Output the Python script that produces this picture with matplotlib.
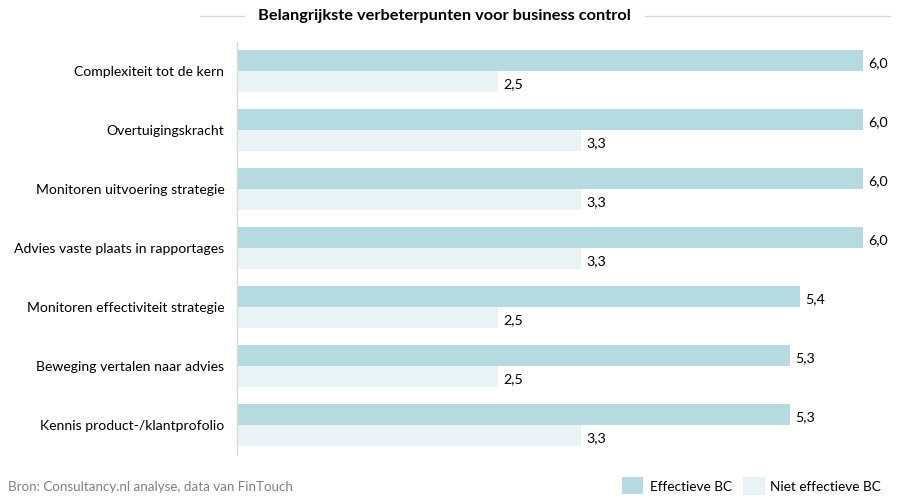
import matplotlib
matplotlib.use("Agg")
import matplotlib.pyplot as plt
from matplotlib.patches import Rectangle
from matplotlib.lines import Line2D

categories = ["Complexiteit tot de kern", "Overtuigingskracht", "Monitoren uitvoering strategie",
              "Advies vaste plaats in rapportages", "Monitoren effectiviteit strategie",
              "Beweging vertalen naar advies", "Kennis product-/klantprofolio"]
effectief = [6.0, 6.0, 6.0, 6.0, 5.4, 5.3, 5.3]
niet_effectief = [2.5, 3.3, 3.3, 3.3, 2.5, 2.5, 3.3]
series_names = ["Effectieve BC", "Niet effectieve BC"]
title = "Belangrijkste verbeterpunten voor business control"
source = "Bron: Consultancy.nl analyse, data van FinTouch"

plt.rcParams['font.family'] = ['Lato', 'DejaVu Sans']
c_dark = "#b5dae0"
c_light = "#eaf4f6"
W, H = 900, 503
fig = plt.figure(figsize=(9, 5.03), dpi=100)
ax = fig.add_axes([237/W, 1-454.5/H, (863-237)/W, 413/H])

n = len(categories)
ys = list(range(n))
bh = 0.356
ax.barh([y - bh/2 for y in ys], effectief, height=bh, color=c_dark, edgecolor="none")
ax.barh([y + bh/2 for y in ys], niet_effectief, height=bh, color=c_light, edgecolor="none")
for y, v in zip(ys, effectief):
    ax.text(v + 0.05, y - bh/2 + 0.05, f"{v:.1f}".replace(".", ","), va="center", ha="left",
            fontsize=10.3, color="#000000")
for y, v in zip(ys, niet_effectief):
    ax.text(v + 0.05, y + bh/2 + 0.05, f"{v:.1f}".replace(".", ","), va="center", ha="left",
            fontsize=10.3, color="#000000")

ax.set_xlim(0, 6)
ax.set_ylim(n - 0.5, -0.5)
ax.set_xticks([])
ax.set_yticks(ys)
ax.set_yticklabels(categories, fontsize=10.1)
ax.tick_params(axis="y", length=0, pad=9)
for s in ["top", "right", "bottom"]:
    ax.spines[s].set_visible(False)
ax.spines["left"].set_color("#d9d9d9")
ax.spines["left"].set_linewidth(1)

# title with side lines
fig.text(444/W, 1-16/H, title, ha="center", va="center", fontsize=11.8, fontweight="bold")
fig.add_artist(Line2D([200/W, 244/W], [1-16/H, 1-16/H], color="#d9d9d9", lw=1))
fig.add_artist(Line2D([645/W, 890/W], [1-16/H, 1-16/H], color="#d9d9d9", lw=1))

# source
fig.text(8/W, 1-487/H, source, ha="left", va="center", fontsize=9.6, color="#808080")

# legend
fig.add_artist(Rectangle((622/W, 1-494/H), 21/W, 17/H, transform=fig.transFigure,
                         facecolor=c_dark, edgecolor="none"))
fig.text(650/W, 1-487/H, series_names[0], ha="left", va="center", fontsize=9.8)
fig.add_artist(Rectangle((743/W, 1-494/H), 21/W, 17/H, transform=fig.transFigure,
                         facecolor=c_light, edgecolor="#e3eef0", lw=0.6))
fig.text(770/W, 1-487/H, series_names[1], ha="left", va="center", fontsize=9.8)

fig.savefig("out.png", dpi=100)
